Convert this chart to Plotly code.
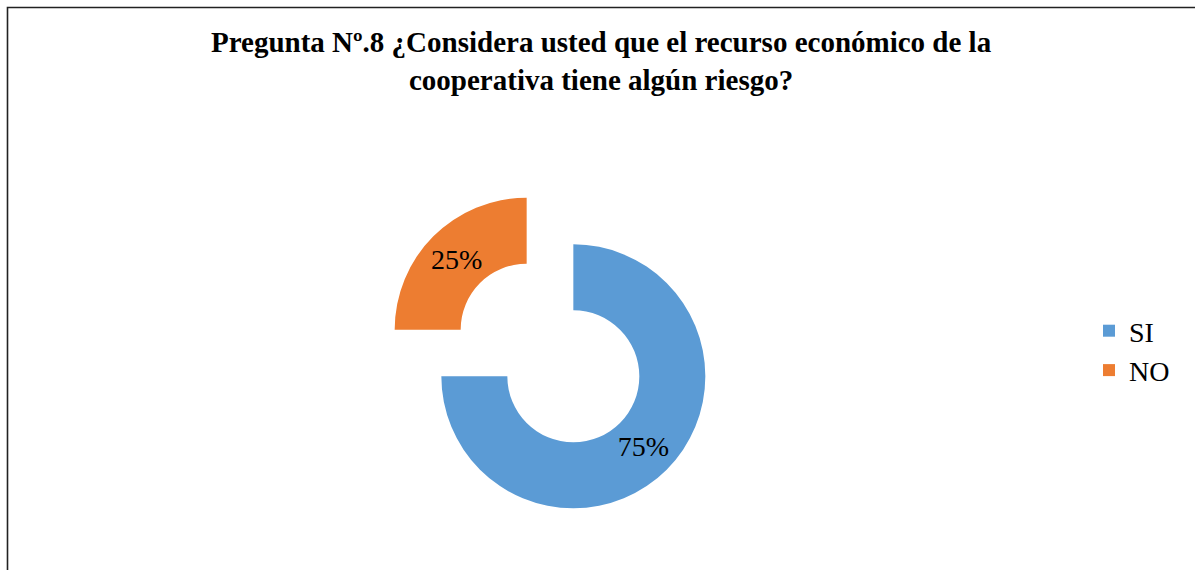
import plotly.graph_objects as go

# Survey answers for question 8
labels = ["SI", "NO"]
shares = [75, 25]
colors = ["#5B9BD5", "#ED7D31"]

W, H = 1195, 570

title_text = ("<b>Pregunta Nº.8 ¿Considera usted que el recurso económico de la<br>"
              "cooperativa tiene algún riesgo?</b>")

fig = go.Figure()
fig.add_trace(go.Pie(
    labels=labels,
    values=shares,
    marker=dict(colors=colors, line=dict(width=0)),
    hole=0.5,
    pull=[0.25, 0.25],
    sort=False,
    direction="clockwise",
    rotation=0,
    textinfo="percent",
    textposition="inside",
    insidetextorientation="horizontal",
    textfont=dict(family="Liberation Serif", size=28, color="#000000"),
    domain=dict(x=[385 / W, 715 / W], y=[1 - 518 / H, 1 - 188 / H]),
    hoverinfo="label+percent",
))

fig.update_layout(
    width=W,
    height=H,
    margin=dict(l=0, r=0, t=0, b=0),
    paper_bgcolor="white",
    plot_bgcolor="white",
    showlegend=True,
    legend=dict(
        x=1089 / W, y=1 - 306 / H,
        xanchor="left", yanchor="top",
        font=dict(family="Liberation Serif", size=28, color="#000000"),
        bgcolor="rgba(0,0,0,0)",
    ),
    annotations=[dict(
        text=title_text,
        x=601 / W, y=1 - 24 / H,
        xref="paper", yref="paper",
        xanchor="center", yanchor="top",
        showarrow=False,
        font=dict(family="Liberation Serif", size=29, color="#000000"),
        align="center",
    )],
    shapes=[dict(
        type="rect", xref="paper", yref="paper",
        x0=7.5 / W, x1=1.02, y0=-0.02, y1=1 - 7.5 / H,
        line=dict(color="#222222", width=1.6),
    )],
)

fig.write_html("out.html")
